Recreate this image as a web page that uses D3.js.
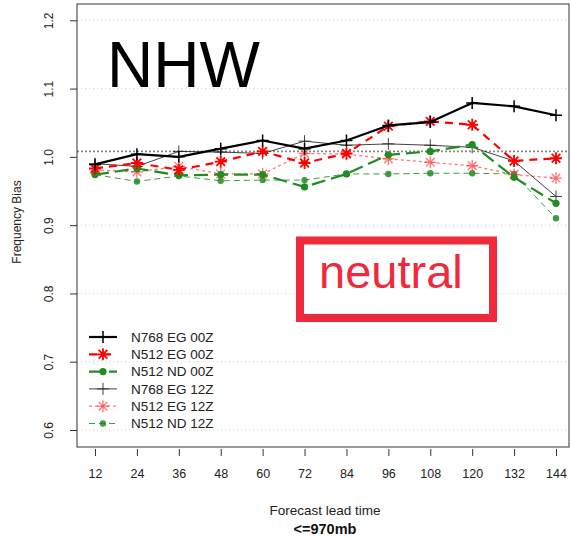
<!DOCTYPE html>
<html><head><meta charset="utf-8">
<script src="https://cdn.jsdelivr.net/npm/d3@7"></script>
<style>body{margin:0;background:#fff}svg{display:block;font-family:"Liberation Sans",Arial,Helvetica,sans-serif}</style>
</head><body><svg id="c" width="571" height="538"></svg>
<script>
// ---- data ----
const leadTimes = [12, 24, 36, 48, 60, 72, 84, 96, 108, 120, 132, 144];
const seriesNames = ["N768 EG 00Z", "N512 EG 00Z", "N512 ND 00Z", "N768 EG 12Z", "N512 EG 12Z", "N512 ND 12Z"];
const n768eg00 = [0.989, 1.004, 1.000, 1.012, 1.024, 1.012, 1.024, 1.046, 1.051, 1.079, 1.074, 1.061];
const n512eg00 = [0.983, 0.991, 0.981, 0.993, 1.008, 0.991, 1.005, 1.045, 1.052, 1.047, 0.994, 0.998];
const n512nd00 = [0.974, 0.983, 0.973, 0.974, 0.974, 0.956, 0.975, 1.003, 1.008, 1.018, 0.970, 0.932];
const n768eg12 = [0.990, 0.986, 1.008, 1.007, 1.005, 1.023, 1.017, 1.019, 1.017, 1.014, 0.994, 0.942];
const n512eg12 = [0.981, 0.978, 0.986, 0.975, 0.975, 1.005, 1.004, 0.997, 0.992, 0.987, 0.974, 0.969];
const n512nd12 = [0.974, 0.964, 0.972, 0.965, 0.966, 0.966, 0.975, 0.975, 0.976, 0.976, 0.975, 0.910];
const yTicks = [0.6, 0.7, 0.8, 0.9, 1.0, 1.1, 1.2];
const refLine = 1.008;
const regionLabel = "NHW";
const verdict = "neutral";
const xTitle = "Forecast lead time";
const yTitle = "Frequency Bias";
const subTitle = "<=970mb";

// ---- styles ----
const seriesValues = [n768eg00, n512eg00, n512nd00, n768eg12, n512eg12, n512nd12];
const styles = [
  {color:"#000", w:2.2, dash:null, mark:"plus", op:1, ms:6, mw:1.5},
  {color:"#ff0000", w:2.2, dash:"8,6", mark:"star", op:1, ms:6, mw:1.8},
  {color:"#228b22", w:2.2, dash:"14,6", mark:"dot", op:1, ms:3.6, mw:0},
  {color:"#222", w:1, dash:null, mark:"plus", op:0.85, ms:6, mw:1},
  {color:"#ff2a2a", w:1.3, dash:"3,3", mark:"star", op:0.65, ms:6, mw:1.3},
  {color:"#228b22", w:1, dash:"6,4", mark:"dot", op:0.85, ms:3.2, mw:0}
];

const svg = d3.select("#c");
const x = d3.scaleLinear().domain([12, 144]).range([95, 556]);
const y = d3.scaleLinear().domain([0.6, 1.2]).range([430, 20.3]);
const box = {l:77, r:569, t:4, b:447};

// gridlines
svg.append("g").selectAll("line").data(yTicks.filter(v=>v!==1.0)).join("line")
  .attr("x1", box.l).attr("x2", box.r).attr("y1", d=>y(d)).attr("y2", d=>y(d))
  .attr("stroke", "#d4d4d4").attr("stroke-width", 1).attr("stroke-dasharray", "1,3");
svg.append("line").attr("x1", box.l).attr("x2", box.r).attr("y1", y(refLine)).attr("y2", y(refLine))
  .attr("stroke", "#888").attr("stroke-width", 1.6).attr("stroke-dasharray", "2,2");

// box
svg.append("rect").attr("x", box.l).attr("y", box.t).attr("width", box.r-box.l).attr("height", box.b-box.t)
  .attr("fill", "none").attr("stroke", "#333").attr("stroke-width", 1);

// y axis
const yAxis = d3.axisLeft(y).tickValues(yTicks).tickSize(7).tickFormat(d3.format(".1f"));
const ya = svg.append("g").attr("transform", `translate(${box.l},0)`).call(yAxis);
ya.select(".domain").remove();
ya.selectAll(".tick line").attr("stroke", "#333");
ya.selectAll(".tick text").attr("x", 0).attr("y", 0).attr("dy", 0)
  .attr("transform", "translate(-24,0) rotate(-90)").attr("text-anchor", "middle")
  .attr("font-size", 12).attr("fill", "#222").attr("font-family", "Liberation Sans, Arial, sans-serif");

// x axis
const xAxis = d3.axisBottom(x).tickValues(leadTimes).tickSize(7).tickFormat(d3.format("d"));
const xa = svg.append("g").attr("transform", `translate(0,${box.b+2})`).call(xAxis);
xa.select(".domain").remove();
xa.selectAll(".tick line").attr("stroke", "#333");
xa.selectAll(".tick text").attr("y", 20).attr("dy", "0.71em").attr("font-size", 12.5).attr("fill", "#222")
  .attr("font-family", "Liberation Sans, Arial, sans-serif");

// titles
svg.append("text").attr("x", 325).attr("y", 515).attr("text-anchor", "middle").attr("font-size", 13.5).attr("fill", "#222").text(xTitle);
svg.append("text").attr("x", 325).attr("y", 534).attr("text-anchor", "middle").attr("font-size", 14.5).attr("font-weight", "bold").attr("fill", "#111").text(subTitle);
svg.append("text").attr("transform", "translate(21,222) rotate(-90)").attr("text-anchor", "middle").attr("font-size", 12).attr("fill", "#222").text(yTitle);

// markers
function drawMarker(g, st, cx, cy) {
  if (st.mark === "plus") {
    g.append("path").attr("d", `M${cx-st.ms},${cy}H${cx+st.ms}M${cx},${cy-st.ms}V${cy+st.ms}`)
      .attr("stroke", st.color).attr("stroke-width", st.mw).attr("fill", "none").attr("opacity", st.op);
  } else if (st.mark === "star") {
    const r = st.ms, d = st.ms*0.72;
    g.append("path").attr("d", `M${cx-r},${cy}H${cx+r}M${cx},${cy-r}V${cy+r}M${cx-d},${cy-d}L${cx+d},${cy+d}M${cx-d},${cy+d}L${cx+d},${cy-d}`)
      .attr("stroke", st.color).attr("stroke-width", st.mw).attr("fill", "none").attr("opacity", st.op);
  } else {
    g.append("circle").attr("cx", cx).attr("cy", cy).attr("r", st.ms).attr("fill", st.color).attr("opacity", st.op);
  }
}

// series (12Z drawn first, 00Z on top)
const order = [5, 4, 3, 2, 1, 0];
const line = d3.line().x((d,i)=>x(leadTimes[i])).y(d=>y(d));
order.forEach(k => {
  const st = styles[k];
  const g = svg.append("g");
  g.append("path").attr("d", line(seriesValues[k])).attr("fill", "none")
    .attr("stroke", st.color).attr("stroke-width", st.w).attr("stroke-dasharray", st.dash)
    .attr("opacity", st.op).attr("stroke-linejoin", "round");
  seriesValues[k].forEach((v,i) => drawMarker(g, st, x(leadTimes[i]), y(v)));
});

// legend
const lg = svg.append("g");
seriesNames.forEach((nm, i) => {
  const st = styles[i];
  const yy = 337 + i*17.3;
  lg.append("line").attr("x1", 89).attr("x2", 117).attr("y1", yy).attr("y2", yy)
    .attr("stroke", st.color).attr("stroke-width", st.w).attr("stroke-dasharray", st.dash).attr("opacity", st.op);
  drawMarker(lg, st, 103, yy);
  lg.append("text").attr("x", 131).attr("y", yy+4.6).attr("font-size", 13.5).attr("fill", "#222").text(nm);
});

// overlays
svg.append("text").attr("x", 107).attr("y", 87).attr("font-size", 64).attr("fill", "#000").text(regionLabel);
svg.append("rect").attr("x", 300).attr("y", 240.5).attr("width", 193).attr("height", 77.5)
  .attr("fill", "#fff").attr("stroke", "#ee2a3c").attr("stroke-width", 8);
svg.append("text").attr("x", 319).attr("y", 288).attr("font-size", 47).attr("fill", "#ee2a3c").text(verdict);
</script>
</body></html>
